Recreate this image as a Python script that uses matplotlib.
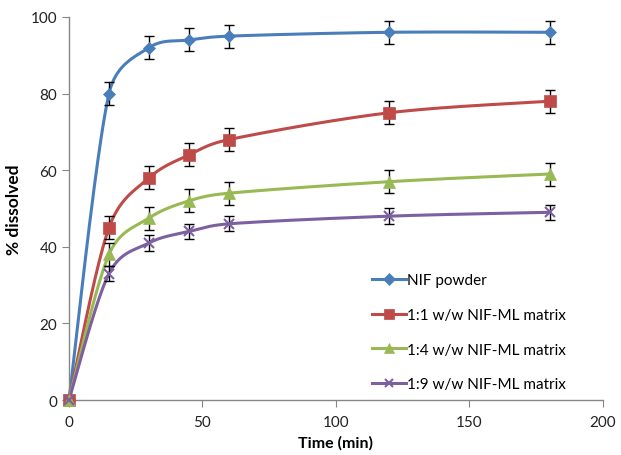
import numpy as np
import matplotlib
matplotlib.use("Agg")
import matplotlib.pyplot as plt
from matplotlib.lines import Line2D

plt.rcParams["font.family"] = ["Lato", "DejaVu Sans"]

# ── data ──────────────────────────────────────────────────────────────
time = [0, 15, 30, 45, 60, 120, 180]

nif_powder = [0, 80, 92, 94, 95, 96, 96]
nif_powder_err = [0, 3, 3, 3, 3, 3, 3]

ml_1_1 = [0, 45, 58, 64, 68, 75, 78]
ml_1_1_err = [0, 3, 3, 3, 3, 3, 3]

ml_1_4 = [0, 38, 47.5, 52, 54, 57, 59]
ml_1_4_err = [0, 3, 3, 3, 3, 3, 3]

ml_1_9 = [0, 33, 41, 44, 46, 48, 49]
ml_1_9_err = [0, 2, 2, 2, 2, 2, 2]

labels = ["NIF powder", "1:1 w/w NIF-ML matrix",
          "1:4 w/w NIF-ML matrix", "1:9 w/w NIF-ML matrix"]

COLORS = ["#4A7EBB", "#BE4B48", "#98B954", "#7D60A0"]
MARKERS = ["D", "s", "^", "x"]
MSIZES = [6.5, 8.5, 8.5, 7]


def smooth(ax, x, y, n=40):
    """Excel-style smoothed line (Bezier, control points limited by segment length),
    computed in display space."""
    pts = ax.transData.transform(np.column_stack([x, y]))
    p = np.vstack([pts[:1], pts, pts[-1:]])
    t = np.linspace(0, 1, n)[:, None]
    out = []
    for i in range(1, len(p) - 2):
        p0, p1, p2, p3 = p[i - 1], p[i], p[i + 1], p[i + 2]
        d12 = np.hypot(*(p2 - p1))
        d02 = np.hypot(*(p2 - p0))
        d13 = np.hypot(*(p3 - p1))
        f1 = 1 / 6 if d02 / 6 < d12 / 2 else d12 / d02 / 2
        f2 = 1 / 6 if d13 / 6 < d12 / 2 else d12 / d13 / 2
        c1 = p1 + f1 * (p2 - p0)
        c2 = p2 - f2 * (p3 - p1)
        out.append((1 - t) ** 3 * p1 + 3 * (1 - t) ** 2 * t * c1
                   + 3 * (1 - t) * t ** 2 * c2 + t ** 3 * p2)
    data = ax.transData.inverted().transform(np.vstack(out))
    return data[:, 0], data[:, 1]


fig = plt.figure(figsize=(6.21, 4.56), dpi=100)
ax = fig.add_axes([0.111, 0.1206, 0.860, 0.84])
ax.set_xlim(0, 200)
ax.set_ylim(0, 100)

series = [(nif_powder, nif_powder_err), (ml_1_1, ml_1_1_err),
          (ml_1_4, ml_1_4_err), (ml_1_9, ml_1_9_err)]

handles = []
for (vals, errs), col, mk, ms, lab in zip(series, COLORS, MARKERS, MSIZES, labels):
    sx, sy = smooth(ax, time, vals)
    ax.plot(sx, sy, color=col, lw=2.2, zorder=2, clip_on=False)
    ax.errorbar(time, vals, yerr=errs, fmt="none", ecolor="black",
                elinewidth=1, capsize=3.5, capthick=1, zorder=3)
    mew = 1.5 if mk == "x" else 0.5
    ax.plot(time, vals, linestyle="none", marker=mk, markersize=ms,
            color=col, markeredgecolor=col, markeredgewidth=mew,
            zorder=4, clip_on=False)
    handles.append(Line2D([0], [0], color=col, lw=2.2, marker=mk,
                          markersize=ms * 0.9, markeredgewidth=mew))

ax.set_xticks([0, 50, 100, 150, 200])
ax.set_yticks([0, 20, 40, 60, 80, 100])

for s in ["top", "right"]:
    ax.spines[s].set_visible(False)
for s in ["left", "bottom"]:
    ax.spines[s].set_color("#868686")
    ax.spines[s].set_linewidth(1)
ax.tick_params(direction="out", length=5, color="#868686",
               labelsize=11, labelcolor="#222222")
ax.tick_params(axis="x", pad=6)

ax.set_xlabel("Time (min)", fontsize=11.5, fontweight="bold")
ax.set_ylabel("% dissolved", fontsize=12.5, fontweight="bold", labelpad=6)

ax.legend(handles, labels, loc="lower left", bbox_to_anchor=(0.542, -0.013),
          frameon=False, fontsize=11, handlelength=2.2, handletextpad=0.1,
          labelspacing=1.35)

fig.savefig("out.png", dpi=100)
